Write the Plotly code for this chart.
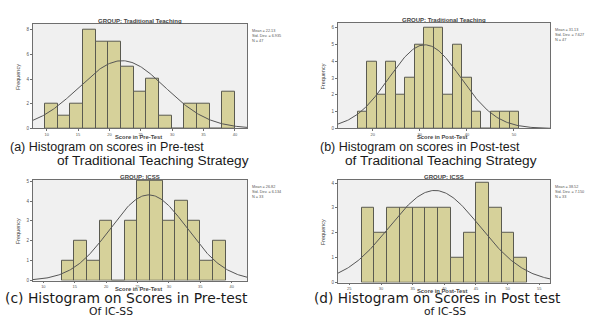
import numpy as np
import plotly.graph_objects as go

W, H = 589, 326

# ---------------- data ----------------
counts_a = [2, 1, 2, 8, 7, 7, 5, 3, 4, 1, 0, 2, 2, 0, 3]
counts_b = [1, 4, 2, 4, 2, 3, 5, 6, 6, 2, 5, 3, 1, 0, 1, 1, 1]
counts_c = [1, 2, 1, 3, 0, 3, 5, 5, 3, 4, 3, 1, 2]
counts_d = [3, 2, 3, 3, 3, 3, 3, 1, 2, 4, 3, 2, 1]

bin_start = [9.73, 16.8, 12.92, 26.95]
bin_width = [2.02, 2.02, 2.01, 2.01]

means = [22.0, 31.1, 26.8, 38.5]
sds = [6.89, 7.6, 6.14, 7.15]
ns = [47, 47, 33, 33]

x_ticks_a = [10, 15, 20, 25, 30, 35, 40]
x_ticks_b = [20, 30, 40, 50]
x_ticks_c = [10, 15, 20, 25, 30, 35, 40]
x_ticks_d = [25, 30, 35, 40, 45, 50, 55]
y_ticks_a = [0, 2, 4, 6, 8]
y_ticks_b = [0, 1, 2, 3, 4, 5, 6]
y_ticks_c = [0, 1, 2, 3, 4, 5]
y_ticks_d = [0, 1, 2, 3, 4]

group_titles = ["GROUP: Traditional Teaching", "GROUP: Traditional Teaching",
                "GROUP: ICSS", "GROUP: ICSS"]
x_titles = ["Score in Pre-Test", "Score in Post-Test", "Score in Pre-Test", "Score in Post-Test"]
stats_text = ["Mean = 22.13<br>Std. Dev. = 6.935<br>N = 47",
              "Mean = 31.13<br>Std. Dev. = 7.627<br>N = 47",
              "Mean = 26.82<br>Std. Dev. = 6.134<br>N = 33",
              "Mean = 38.52<br>Std. Dev. = 7.150<br>N = 33"]
captions = [["(a) Histogram on scores in Pre-test", "of Traditional Teaching Strategy"],
            ["(b) Histogram on scores in Post-test", "of Traditional Teaching Strategy"],
            ["(c) Histogram on Scores in Pre-test", "Of IC-SS"],
            ["(d) Histogram on Scores in Post test", "of IC-SS"]]

# ---------------- layout geometry (pixels) ----------------
frames = [(33, 247, 23, 129), (338, 550, 22, 129), (33, 247, 181, 283), (338, 550, 181, 285)]
x_ranges = [[7.82, 41.92], [12.64, 57.65], [8.35, 42.45], [23.21, 56.69]]
y_ranges = [[0, 8.5], [0, 6.3], [0, 5.07], [0, 4.13]]

all_counts = [counts_a, counts_b, counts_c, counts_d]
all_xt = [x_ticks_a, x_ticks_b, x_ticks_c, x_ticks_d]
all_yt = [y_ticks_a, y_ticks_b, y_ticks_c, y_ticks_d]

def px(x):
    return x / W

def py(y):
    return 1 - y / H

fig = go.Figure()
BAR_FILL = "#d6d19a"
BAR_LINE = "#5a5a50"
FRAME = "#6e6e6e"
FONT = "Liberation Sans"

layout = dict(width=W, height=H, margin=dict(l=0, r=0, t=0, b=0),
              paper_bgcolor="white", plot_bgcolor="#f0f0f0",
              showlegend=False, barmode="overlay", bargap=0)
annotations = []

for i in range(4):
    sfx = "" if i == 0 else str(i + 1)
    xa, ya = "x" + sfx, "y" + sfx
    counts = all_counts[i]
    centers = [bin_start[i] + bin_width[i] * (k + 0.5) for k in range(len(counts))]
    fig.add_trace(go.Bar(x=centers, y=counts, width=bin_width[i],
                         marker=dict(color=BAR_FILL, line=dict(color=BAR_LINE, width=1)),
                         xaxis=xa, yaxis=ya, hoverinfo="skip"))
    xs = np.linspace(x_ranges[i][0], x_ranges[i][1], 200)
    ys = ns[i] * bin_width[i] / (sds[i] * np.sqrt(2 * np.pi)) * np.exp(-0.5 * ((xs - means[i]) / sds[i]) ** 2)
    fig.add_trace(go.Scatter(x=xs, y=ys, mode="lines", line=dict(color="#555555", width=1),
                             xaxis=xa, yaxis=ya, hoverinfo="skip"))
    x0, x1, y0, y1 = frames[i]
    layout["xaxis" + sfx] = dict(domain=[px(x0), px(x1)], range=x_ranges[i], anchor=ya,
                                 tickvals=all_xt[i], ticktext=[str(v) for v in all_xt[i]],
                                 ticks="outside", ticklen=1.5, tickcolor=FRAME,
                                 tickfont=dict(size=4, color="#555", family=FONT),
                                 showline=True, mirror=True, linecolor=FRAME, linewidth=1,
                                 showgrid=False, zeroline=False, fixedrange=True)
    layout["yaxis" + sfx] = dict(domain=[py(y1), py(y0)], range=y_ranges[i], anchor=xa,
                                 tickvals=all_yt[i], ticktext=[str(v) for v in all_yt[i]],
                                 ticks="outside", ticklen=2, tickcolor=FRAME,
                                 tickfont=dict(size=4.5, color="#555", family=FONT),
                                 showline=True, mirror=True, linecolor=FRAME, linewidth=1,
                                 showgrid=False, zeroline=False, fixedrange=True)
    cx = (x0 + x1) / 2
    annotations.append(dict(text="<b>" + group_titles[i] + "</b>", x=px(cx), y=py(y0 - 3),
                            xref="paper", yref="paper", showarrow=False, xanchor="center",
                            yanchor="middle", font=dict(size=6, color="#444", family=FONT)))
    annotations.append(dict(text="<b>" + x_titles[i] + "</b>", x=px(cx - 2), y=py(y1 + 9),
                            xref="paper", yref="paper", showarrow=False, xanchor="center",
                            yanchor="middle", font=dict(size=5.8, color="#444", family=FONT)))
    annotations.append(dict(text="Frequency", x=px(x0 - 15), y=py((y0 + y1) / 2 + 1),
                            xref="paper", yref="paper", showarrow=False, xanchor="center",
                            yanchor="middle", textangle=-90,
                            font=dict(size=5.5, color="#444", family=FONT)))
    annotations.append(dict(text=stats_text[i], x=px(x1 + 3), y=py(y0 + 3),
                            xref="paper", yref="paper", showarrow=False, xanchor="left",
                            yanchor="top", align="left",
                            font=dict(size=3.8, color="#555", family=FONT)))

cap_pos = [[(8, 148), (55, 161)], [(318, 148), (343, 161)],
           [(3, 301), (87, 314)], [(312, 301), (422, 314)]]
cap_size = [[12.5, 13.7], [12.5, 13.7], [13.9, 10.8], [13.7, 10.8]]
cap_font = [["Liberation Sans", "Liberation Sans"], ["Liberation Sans", "Liberation Sans"],
            ["DejaVu Sans", "DejaVu Sans"], ["DejaVu Sans", "DejaVu Sans"]]
for i in range(4):
    for j in range(2):
        cxp, cyp = cap_pos[i][j]
        annotations.append(dict(text=captions[i][j], x=px(cxp), y=py(cyp),
                                xref="paper", yref="paper", showarrow=False, xanchor="left",
                                yanchor="middle",
                                font=dict(size=cap_size[i][j], color="#1a1a1a", family=cap_font[i][j])))

layout["annotations"] = annotations
fig.update_layout(**layout)
fig.write_html("out.html", config={"displayModeBar": False},
               post_script="document.body.style.margin='0px';")
